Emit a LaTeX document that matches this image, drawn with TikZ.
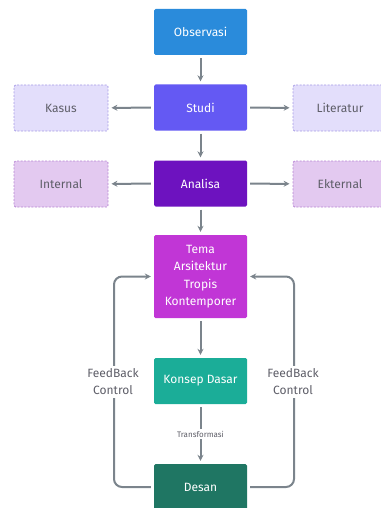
\documentclass[tikz,border=0pt]{standalone}
\usepackage{fontspec}
\setmainfont{Fira Sans}
\usepackage{tikz}
\usetikzlibrary{arrows.meta}
\definecolor{cobs}{HTML}{2A8BDB}
\definecolor{cstudi}{HTML}{6459F3}
\definecolor{canalisa}{HTML}{6D12BF}
\definecolor{ctema}{HTML}{C136D6}
\definecolor{ckonsep}{HTML}{1BAD98}
\definecolor{cdesan}{HTML}{1F7663}
\definecolor{cline}{HTML}{7B848C}
\definecolor{ctext}{HTML}{5E5E68}
\definecolor{cstudifill}{HTML}{E3DEFB}
\definecolor{cstudiline}{HTML}{A79CE6}
\definecolor{canafill}{HTML}{E3C9F0}
\definecolor{canaline}{HTML}{B685D3}
\tikzset{step box/.style={rectangle, rounded corners=1.5pt, fill=#1, text=white, minimum width=93pt, minimum height=46pt, align=center, font=\fontsize{12}{17.5}\selectfont},
side box/.style={rectangle, rounded corners=1.5pt, dashed, dash pattern=on 2pt off 1.5pt, line width=0.8pt, text=ctext, minimum width=94pt, minimum height=46pt, font=\fontsize{12}{14}\selectfont},
flow/.style={-{Stealth[length=6pt,width=6pt]}, line width=2pt, draw=cline, shorten >=3pt, shorten <=3pt},
%default box colour
step box/.default={cobs}}

\begin{document}
\begin{tikzpicture}[x=1pt,y=-1pt]
\useasboundingbox (0,0) rectangle (380,508);
% main column
\node[step box=cobs] (obs) at (200.5,32) {Observasi};
\node[step box=cstudi] (studi) at (200.5,107.5) {Studi};
\node[step box=canalisa] (analisa) at (200.5,183.5) {Analisa};
\node[step box=ctema, minimum height=83pt] (tema) at (200.5,276.5) {Tema\\Arsitektur\\Tropis\\Kontemporer};
\node[step box=ckonsep] (konsep) at (200.5,381) {Konsep Dasar};
\node[step box=cdesan] (desan) at (200.5,487) {Desan};

% side boxes
\node[side box, fill=cstudifill, draw=cstudiline] (kasus) at (61,108) {Kasus};
\node[side box, fill=cstudifill, draw=cstudiline] (literatur) at (340,108) {Literatur};
\node[side box, fill=canafill, draw=canaline] (internal) at (61,184) {Internal};
\node[side box, fill=canafill, draw=canaline] (ekternal) at (340,184) {Ekternal};

%arrows
\draw[flow] (obs) -- (studi);
\draw[flow] (studi) -- (analisa);
\draw[flow] (analisa) -- (tema);
\draw[flow] (tema) -- (konsep);
\draw[flow] (studi) -- (kasus);
\draw[flow] (studi) -- (literatur);
\draw[flow] (analisa) -- (internal);
\draw[flow] (analisa) -- (ekternal);
\draw[flow] (konsep) -- node[fill=white, text=ctext, font=\fontsize{8}{9}\selectfont, inner sep=1.5pt]{Transformasi} (desan);

% feedback loops
\draw[flow, rounded corners=8pt] (desan.west) -- (114,487) -- (114,276.5) -- (tema.west);
\draw[flow, rounded corners=8pt] (desan.east) -- (294,487) -- (294,276.5) -- (tema.east);
\node[fill=white, text=ctext, align=center, font=\fontsize{12}{17}\selectfont] (fbl) at (113,382) {FeedBack\\Control};
\node[fill=white, text=ctext, align=center, font=\fontsize{12}{17}\selectfont] (fbr) at (293,382) {FeedBack\\Control};
\end{tikzpicture}
\end{document}
